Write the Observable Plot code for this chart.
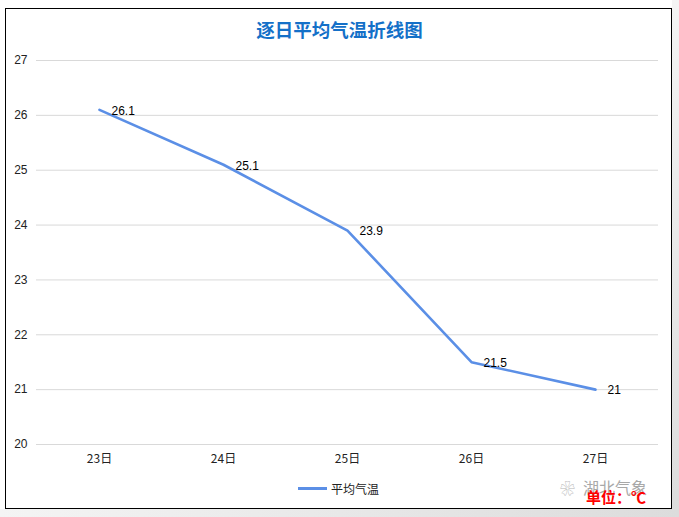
<!DOCTYPE html>
<html>
<head>
<meta charset="utf-8">
<script src="https://cdn.jsdelivr.net/npm/d3@7"></script>
<script src="https://cdn.jsdelivr.net/npm/@observablehq/plot@0.6"></script>
<style>
  html, body { margin: 0; padding: 0; }
  body { width: 679px; height: 517px; position: relative; overflow: hidden; background: #ffffff; font-family: "Liberation Sans", Arial, sans-serif; }
  #shadowR { position: absolute; left: 672px; top: 0; width: 7px; height: 517px; background: linear-gradient(to bottom, #f4f4f4, #dcdcdc); }
  #shadowB { position: absolute; left: 0; top: 509px; width: 679px; height: 8px; background: linear-gradient(to right, #f4f4f4, #dcdcdc); }
  #box { position: absolute; left: 5px; top: 8px; width: 667px; height: 501px; box-sizing: border-box; border: 1.5px solid #000; background: #fff; }
  #title { position: absolute; left: 0; width: 679px; top: 17px; text-align: center; font-family: "Noto Sans CJK SC", sans-serif; font-weight: bold; font-size: 18.5px; color: #1470C8; line-height: 24px; }
  #chart { position: absolute; left: 0; top: 0; }
  #legend { position: absolute; left: 298px; top: 480px; font-family: "Noto Sans CJK SC", sans-serif; font-size: 12px; color: #222; display: flex; align-items: center; }
  #legend .sw { width: 29px; height: 3px; background: #5B8FE6; margin-right: 4px; }
  #wm { position: absolute; left: 560px; top: 475px; font-family: "Noto Sans CJK SC", sans-serif; font-size: 16px; color: #a8a8a8; display: flex; align-items: center; }
  #wm .icon { font-size: 15px; margin-right: 8px; color: #b8b8b8; }
  #unit { position: absolute; left: 586px; top: 486px; font-family: "Noto Sans CJK SC", sans-serif; font-size: 15px; font-weight: bold; color: #ff0000; }
</style>
</head>
<body>
<div id="shadowR"></div>
<div id="shadowB"></div>
<div id="box"></div>
<div id="chart"></div>
<div id="title">逐日平均气温折线图</div>
<div id="legend"><span class="sw"></span><span id="legendText"></span></div>
<div id="wm"><span class="icon">&#x2740;</span><span>湖北气象</span></div>
<div id="unit">单位：℃</div>
<script>
const days = ["23日", "24日", "25日", "26日", "27日"];
const temps = [26.1, 25.1, 23.9, 21.5, 21];
const yTicks = [20, 21, 22, 23, 24, 25, 26, 27];
const seriesName = "平均气温";

const data = days.map((d, i) => ({ day: d, temp: temps[i] }));
document.getElementById("legendText").textContent = seriesName;

const chart = Plot.plot({
  width: 679,
  height: 517,
  marginLeft: 36,
  marginRight: 21,
  marginTop: 60,
  marginBottom: 73,
  style: { background: "transparent", fontFamily: "'Liberation Sans', Arial, sans-serif", fontSize: "12px", color: "#222" },
  x: { type: "point", domain: days, padding: 0.5, label: null },
  y: { domain: [20, 27], label: null },
  marks: [
    Plot.ruleY(yTicks, { stroke: "#d9d9d9", strokeWidth: 1 }),
    Plot.axisY({ ticks: yTicks, tickFormat: d3.format("d"), tickSize: 0, tickPadding: 9, fontSize: 12, label: null }),
    Plot.axisX({ tickSize: 0, tickPadding: 10, fontSize: 12, label: null, fontFamily: "'Noto Sans CJK SC', sans-serif" }),
    Plot.line(data, { x: "day", y: "temp", stroke: "#5B8FE6", strokeWidth: 2.6 }),
    Plot.text(data, { x: "day", y: "temp", text: d => String(d.temp), textAnchor: "start", dx: 12, dy: 1, fontSize: 12, fill: "#000" })
  ]
});
document.getElementById("chart").appendChild(chart);
</script>
</body>
</html>
